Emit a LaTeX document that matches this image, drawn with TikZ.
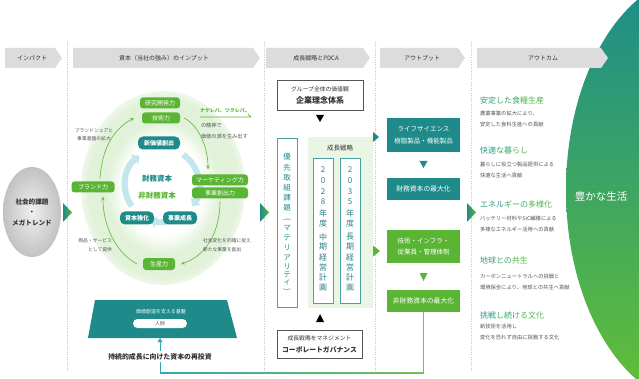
\documentclass[tikz,border=0pt]{standalone}
\usepackage{fontspec}
\setmainfont{Noto Sans CJK JP}
\usetikzlibrary{arrows.meta,calc,shapes.geometric}
\newcommand\fsz[2]{\fontsize{#1}{#2}\selectfont}
\definecolor{gc}{HTML}{5BB534}
\definecolor{tc}{HTML}{1E8A8A}
\definecolor{bannerc}{HTML}{DCDCDC}
\definecolor{txtc}{HTML}{333333}
\definecolor{greyt}{HTML}{555555}
\definecolor{mint}{HTML}{E2F2DA}
\definecolor{ringc}{HTML}{C3E6EC}
\definecolor{palegr}{HTML}{EAF5E4}
\definecolor{arcg}{HTML}{6BBF48}
\definecolor{outt}{HTML}{1A8B8E}
\definecolor{outg}{HTML}{63C034}
\definecolor{tga}{HTML}{2B9C84}
\definecolor{tgb}{HTML}{3AA866}
\definecolor{tgc}{HTML}{52B54A}
\definecolor{linkt}{HTML}{35A8AE}
\definecolor{plant}{HTML}{2F7F84}
\pgfdeclareradialshading{halo}{\pgfpoint{0bp}{0bp}}{color(0bp)=(white); color(12bp)=(white); color(17bp)=(mint); color(23bp)=(mint); color(25bp)=(mint!55!white); color(50bp)=(white)}
\tikzset{
  gbox/.style={fill=gc, text=white, rounded corners=3pt, minimum height=11pt, font=\fsz{6}{7}},
  tbox/.style={fill=tc, text=white, rounded corners=5pt, minimum height=13pt, font=\fsz{6}{7}\bfseries},
  obox/.style={minimum width=73pt, text=white, align=center},
  hdr/.style={text=txtc, font=\fsz{6}{7}},
  note/.style={text=greyt, font=\fsz{4.8}{8.5}},
  sepline/.style={gray!45, dash pattern=on 1pt off 1.2pt, line width=0.6pt},
  garc/.style={arcg, line width=0.7pt, -{Stealth[length=4pt,width=3.5pt]}},
  ringarc/.style={ringc, line width=6pt, -{Triangle[length=6pt,width=12pt]}},
  ttl/.style={anchor=west, font=\fsz{8}{9}},
  dsc/.style={anchor=west, align=left, text=greyt, font=\fsz{5.3}{11}},
  vch/.style={font=\fsz{7.5}{8}},
  pch/.style={font=\fsz{8}{9}, text=plant},
  framebox/.style={draw=greyt, line width=0.8pt, fill=white},
  tealframe/.style={draw=tc!80, line width=0.8pt, fill=white}
}
\begin{document}
\begin{tikzpicture}[x=1pt,y=-1pt, every node/.style={inner sep=0pt, outer sep=0pt}]
\useasboundingbox (0,0) rectangle (639,379);
\fill[white] (0,0) rectangle (639,379);

% big outcome shape
\begin{scope}
\clip (0,0) rectangle (639,379);
\shade[top color=outt, bottom color=outg] (700,190) ellipse [x radius=134pt, y radius=215pt];
\end{scope}

% separators
\foreach \xx in {67,264,375,471} \draw[sepline] (\xx,42) -- (\xx,372);

% headers
\fill[bannerc] (5,48) -- (55,48) -- (62,58) -- (55,68) -- (5,68) -- cycle;
\node[hdr] (h1) at (32,58) {インパクト};
\fill[bannerc] (73,48) -- (253,48) -- (260,58) -- (253,68) -- (73,68) -- cycle;
\node[hdr] (h2) at (164,58) {資本（当社の強み）のインプット};
\fill[bannerc] (266,48) -- (363,48) -- (370,58) -- (363,68) -- (266,68) -- cycle;
\node[hdr] (h3) at (316,58) {成長戦略とPDCA};
\fill[bannerc] (380,48) -- (458,48) -- (465,58) -- (458,68) -- (380,68) -- cycle;
\node[hdr] (h4) at (422,58) {アウトプット};
\fill[bannerc] (477,48) -- (601,48) -- (608,58) -- (601,68) -- (477,68) -- cycle;
\node[hdr] (h5) at (543,58) {アウトカム};

% column triangles
\shade[left color=tc, right color=gc] (63,203) -- (72,212.5) -- (63,222) -- cycle;
\shade[left color=tc, right color=gc] (260,203) -- (269,212.5) -- (260,222) -- cycle;
\shade[left color=tc, right color=gc] (467,203) -- (476,212.5) -- (467,222) -- cycle;
\fill[tc] (373,132) -- (379,137) -- (373,142) -- cycle;
\fill[gc] (373,245.5) -- (380,251) -- (373,256.5) -- cycle;

% impact
\node[ellipse, shade, inner color=gray!12, outer color=gray!48, minimum width=58pt, minimum height=90pt,
      align=center, text=txtc, font=\fsz{6.6}{10.5}\bfseries] (impact) at (32,212) {社会的課題\\・\\メガトレンド};

% input circle
\shade[shading=halo] (163,188) ellipse [x radius=82pt, y radius=97pt];
\begin{scope}[shift={(162,185)}, x=1pt, y=1pt]
  \draw[ringarc] (55:37) arc[start angle=55, end angle=-35, radius=37];
  \draw[ringarc] (-78:37) arc[start angle=-78, end angle=-108, radius=37];
  \draw[ringarc] (215:37) arc[start angle=215, end angle=128, radius=37];
\end{scope}

\node[gbox, minimum width=40pt] (rd) at (160,103) {研究開発力};
\node[gbox, minimum width=38pt] (tech) at (161,118) {技術力};
\node[gbox, minimum width=56pt] (mkt) at (220,180) {マーケティング力};
\node[gbox, minimum width=56pt] (biz) at (220,193) {事業創出力};
\node[gbox, minimum width=43pt] (brand) at (93,187) {ブランド力};
\node[gbox, minimum width=32pt, minimum height=12pt] (prod) at (159,264) {生産力};
\node[tbox, minimum width=42pt] (nv) at (159,143) {新価値創出};
\node[tbox, minimum width=34pt] (cap) at (137,218) {資本強化};
\node[tbox, minimum width=34pt] (grow) at (180,218) {事業成長};

\node[text=tc, font=\fsz{7.5}{8}\bfseries] (fcap) at (157,179) {財務資本};
\node[text=gc, font=\fsz{7.5}{8}\bfseries] (nfcap) at (157,196) {非財務資本};

\draw[garc] ([xshift=7pt,yshift=3pt]brand.north) .. controls (102,150) and (112,130) .. ([xshift=-8pt]tech.west);
\draw[garc] ([xshift=4pt]tech.east) .. controls (197,124) and (208,145) .. ([xshift=-12pt,yshift=5pt]mkt.north);
\draw[garc] ([yshift=-3pt]biz.south) .. controls (220,232) and (206,256) .. ([xshift=6pt]prod.east);
\draw[garc] ([xshift=-6pt]prod.west) .. controls (115,252) and (103,225) .. ([xshift=10pt,yshift=-4pt]brand.south);

\node[note, align=center] (n1) at (94,134.5) {ブランドシェアと\\事業基盤の拡大};
\node[anchor=west, text=gc, font=\fsz{5}{6}\bfseries] (nk) at (200,111) {ナケレバ、ツクレバ。};
\draw[gc, line width=0.6pt] ([yshift=-6pt]nk.west) -- ([xshift=1pt,yshift=-6pt]nk.east) -- ++(-3,-3);
\node[note, anchor=west, align=left, font=\fsz{5.2}{11}] (n2) at (201,131.5) {の精神で\\価値の源を生み出す};
\node[note, anchor=east, align=right] (n3) at (112,245) {商品・サービス\\として提供};
\node[note, anchor=west, align=left] (n4) at (203,245) {社会変化を的確に捉え\\新たな事業を創出};

% base trapezoid
\fill[tc] (95,300) -- (227,300) -- (237,338) -- (88,338) -- cycle;
\coordinate (base) at (160,338);
\node[text=white, font=\fsz{5}{6}] (bt) at (161,312) {価値創造を支える基盤};
\node[fill=white, rounded corners=4.5pt, minimum width=54pt, minimum height=9pt, text=greyt, font=\fsz{5}{6}] (jinzai) at (160,323.5) {人財};
\node[text=txtc, font=\fsz{6.9}{8}\bfseries] (rein) at (160,357) {持続的成長に向けた資本の再投資};

% growth strategy column
\node[framebox, minimum width=86pt, minimum height=30pt, align=center, text=txtc] (philo) at (320,95)
  {{\fsz{5.8}{11}グループ全体の価値観}\\{\fsz{8}{9}\bfseries 企業理念体系}};
\fill[black] (316,115) -- (324,115) -- (320,122) -- cycle;
\node[tealframe, minimum width=20pt, minimum height=169pt] (mat) at (287,222.5) {};
\foreach \c/\yy [count=\i] in {優/157,先/168,取/178,組/188,課/198,題/208,マ/228,テ/238,リ/248,ア/258,リ/267,テ/275,ィ/282}
  \node[vch, text=tc] (m\i) at (287,\yy) {\c};
\node[vch, text=tc, rotate=-90] (mlp) at (287,219.5) {(};
\node[vch, text=tc, rotate=-90] (mrp) at (287,289.5) {)};
\fill[palegr] (308,137) rectangle (373,308);
\node[text=txtc, font=\fsz{6.5}{7}] (gs) at (340,148) {成長戦略};
\node[tealframe, minimum width=20pt, minimum height=145pt] (mid) at (323,230.5) {};
\node[tealframe, minimum width=20pt, minimum height=145pt] (long) at (350,230.5) {};
\foreach \c/\yy [count=\i] in {2/170,0/181,2/192,8/202,年/213,度/223,中/237,期/247,経/257,営/267,計/277,画/288}
  \node[pch] (p\i) at (323,\yy) {\c};
\foreach \c/\yy [count=\i] in {2/170,0/181,3/192,5/202,年/213,度/223,長/237,期/247,経/257,営/267,計/277,画/288}
  \node[pch] (q\i) at (350,\yy) {\c};
\fill[black] (316,322) -- (324,322) -- (320,314) -- cycle;
\node[framebox, minimum width=85pt, minimum height=28pt, align=center, text=txtc] (gov) at (319.5,344)
  {{\fsz{5.8}{11}成長戦略をマネジメント}\\{\fsz{6.8}{8}\bfseries コーポレートガバナンス}};

% output column
\node[obox, fill=tc, minimum height=34pt, font=\fsz{6.5}{12.5}] (ls) at (423.5,135) {ライフサイエンス\\樹脂製品・機能製品};
\fill[tc] (419.5,161) -- (427.5,161) -- (423.5,168) -- cycle;
\node[obox, fill=tc, minimum height=22pt, font=\fsz{6.8}{8}] (fin) at (423.5,189) {財務資本の最大化};
\node[obox, fill=gc, minimum height=33pt, font=\fsz{6.5}{11.5}] (techo) at (423.5,246.5) {技術・インフラ・\\従業員・管理体制};
\fill[gc] (419.5,273) -- (427.5,273) -- (423.5,281) -- cycle;
\node[obox, fill=gc, minimum height=22pt, font=\fsz{6.8}{8}] (nfm) at (423.5,301) {非財務資本の最大化};

% reinvestment connector
\coordinate (cr) at (423.5,373);
\coordinate (cl) at (160,373);
\draw[gc!85, line width=0.8pt] (nfm.south) -- (cr);
\shade[left color=linkt, right color=gc!85] (160,372.6) rectangle (423.9,373.4);
\draw[linkt, line width=0.8pt] (cl) -- ([yshift=-2pt]rein.south);
\draw[linkt, line width=0.8pt, -{Triangle[length=4pt,width=5pt]}] ([yshift=3pt]rein.north) -- (base);

% outcome texts
\node[ttl] (o1) at (480,100) {\color{tga}安定\color{tgb}した食\color{tgc}糧生産};
\node[dsc] (d1) at (480,118.5) {農業事業の拡大により、\\安定した食料生産への貢献};
\node[ttl] (o2) at (480,150) {\color{tga}快適\color{tgb}な暮\color{tgc}らし};
\node[dsc] (d2) at (480,169.5) {暮らしに役立つ製品提供による\\快適な生活へ貢献};
\node[ttl] (o3) at (480,204) {\color{tga}エネル\color{tgb}ギーの\color{tgc}多様化};
\node[dsc] (d3) at (480,223.5) {バッテリー材料やSiC繊維による\\多様なエネルギー活用への貢献};
\node[ttl] (o4) at (480,260) {\color{tga}地球\color{tgb}との\color{tgc}共生};
\node[dsc] (d4) at (480,282) {カーボンニュートラルへの挑戦と\\環境保全により、地球との共生へ貢献};
\node[ttl] (o5) at (480,315) {\color{tga}挑戦\color{tgb}し続け\color{tgc}る文化};
\node[dsc] (d5) at (480,332) {新技術を活用し\\変化を恐れず自由に挑戦する文化};

\node[text=white, font=\fsz{10.5}{12}] (life) at (601,196) {豊かな生活};
\end{tikzpicture}
\end{document}
